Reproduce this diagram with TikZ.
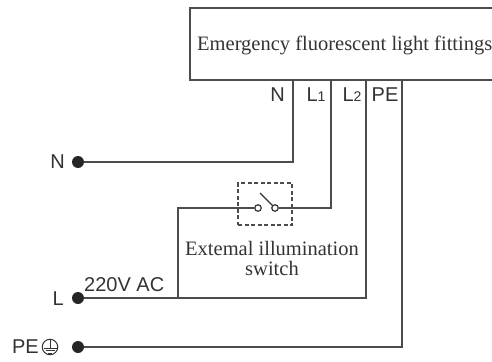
\documentclass[tikz,border=0pt]{standalone}
\usepackage{fontspec}
\setmainfont{Liberation Serif}
\setsansfont{Liberation Sans}
\usetikzlibrary{calc,positioning}
\definecolor{wirecol}{gray}{0.3}
\definecolor{textcol}{gray}{0.2}
\tikzset{wire/.style={draw=wirecol,line width=1.6pt},
  terminal/.style={circle,fill=black!85,inner sep=0pt,minimum size=12pt},
  contact/.style={circle,draw=black!80,fill=white,line width=1.2pt,inner sep=0pt,minimum size=6.5pt},
  pinlabel/.style={font=\sffamily\fontsize{20}{20}\selectfont,text=textcol,inner sep=0pt},
  seriflabel/.style={font=\fontsize{20.5}{20}\selectfont,text=textcol,inner sep=0pt,align=center}}
\newcommand{\pinsub}[1]{{\fontsize{14}{14}\selectfont #1}}
\begin{document}
\begin{tikzpicture}[x=1pt,y=-1pt]
    \useasboundingbox (0,0) rectangle (492,361);
    % fitting box, open on the right
    \coordinate (BoxTR) at (492,8);
    \coordinate (BoxTL) at (190,8);
    \coordinate (BoxBL) at (190,80);
    \coordinate (BoxBR) at (492,80);
    \draw[wire] (BoxTR) -- (BoxTL) -- (BoxBL) -- (BoxBR);
    \node[seriflabel,anchor=west] (Title) at (197,45) {Emergency fluorescent light fittings};
    % pins on the box
    \coordinate (PinN) at (293,80);
    \coordinate (PinA) at (331,80);
    \coordinate (PinB) at (366,80);
    \coordinate (PinE) at (402,80);
    \node[pinlabel,anchor=east] (LabN) at (285,95) {N};
    \node[pinlabel] (LabA) at (316,95) {L\pinsub{1}};
    \node[pinlabel] (LabB) at (352,95) {L\pinsub{2}};
    \node[pinlabel] (LabE) at (385,95) {PE};
    % supply side
    \node[terminal] (TermN) at (78,162) {};
    \node[terminal] (TermL) at (78,298) {};
    \node[terminal] (TermE) at (78,347) {};
    \node[pinlabel,anchor=east] (TxtN) at (65,162) {N};
    \node[pinlabel,anchor=east] (TxtL) at (64,299) {L};
    \node[pinlabel,anchor=west] (TxtV) at (84,285) {220V AC};
    % earth symbol
    \node[circle,draw=textcol,line width=1pt,inner sep=0pt,minimum size=15.5pt] (Earth) at (50,347) {};
    \node[pinlabel,anchor=east] (TxtE) at (39,347) {PE};
    \draw[textcol,line width=1pt] ($(Earth)+(0,-7)$) -- ($(Earth)+(0,1)$)
      ($(Earth)+(-6.5,1)$) -- ($(Earth)+(6.5,1)$)
      ($(Earth)+(-4.5,3.5)$) -- ($(Earth)+(4.5,3.5)$)
      ($(Earth)+(-2,6)$) -- ($(Earth)+(2,6)$);
    % switch
    \node[contact] (SwA) at (258,208) {};
    \node[contact] (SwB) at (275,208) {};
    \coordinate (Blade) at (260,193);
    \node[draw=wirecol,dash pattern=on 4pt off 2.5pt,line width=1.3pt,minimum width=54pt,minimum height=42pt,inner sep=0pt] (SwBox) at (265,204) {};
    \node[seriflabel] (SwTxt) at (272,258) {Extemal illumination\\switch};
    \draw[black!80,line width=1.4pt] (Blade) -- (SwB);
    % wiring
    \coordinate (CornA) at (331,208);
    \coordinate (CornB) at (366,298);
    \coordinate (CornC) at (178,208);
    \coordinate (CornD) at (178,298);
    \draw[wire] (PinN) |- (TermN);
    \draw[wire] (PinA) -- (CornA) -- (SwB);
    \draw[wire] (SwA) -- (CornC) -- (CornD);
    \draw[wire] (PinB) -- (CornB) -- (TermL);
    \draw[wire] (PinE) |- (TermE);
  \end{tikzpicture}
\end{document}
